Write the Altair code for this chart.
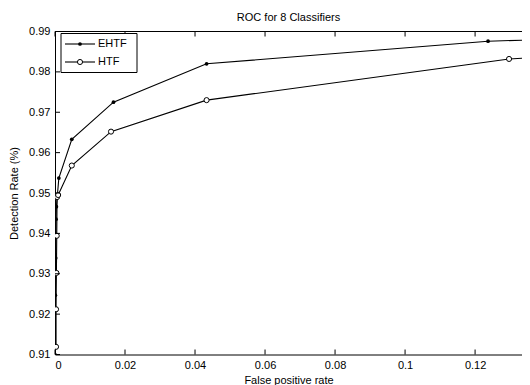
import altair as alt
import pandas as pd

FONT = "Liberation Sans"

series_names = ["EHTF", "HTF"]

ehtf_fpr = [0.0000, 0.0001, 0.0002, 0.0003, 0.0004, 0.0011, 0.0048, 0.0167, 0.0433, 0.1237, 0.1360]
ehtf_dr = [0.9100, 0.9247, 0.9339, 0.9435, 0.9466, 0.9537, 0.9633, 0.9725, 0.9820, 0.9876, 0.9879]

htf_fpr = [0.0003, 0.0003, 0.0004, 0.0005, 0.0006, 0.0009, 0.0048, 0.0160, 0.0433, 0.1297, 0.1360]
htf_dr = [0.9119, 0.9212, 0.9302, 0.9394, 0.9490, 0.9495, 0.9568, 0.9652, 0.9730, 0.9832, 0.9835]

x_ticks = [0, 0.02, 0.04, 0.06, 0.08, 0.1, 0.12]
y_ticks = [0.91, 0.92, 0.93, 0.94, 0.95, 0.96, 0.97, 0.98, 0.99]

W, H = 467, 323
XMAX = 0.1334

rows = []
for i, (x, y) in enumerate(zip(ehtf_fpr, ehtf_dr)):
    rows.append({"series": "EHTF", "fpr": x, "dr": y, "order": i})
for i, (x, y) in enumerate(zip(htf_fpr, htf_dr)):
    rows.append({"series": "HTF", "fpr": x, "dr": y, "order": i})
df = pd.DataFrame(rows)

xs = alt.Scale(domain=[0, XMAX], nice=False, zero=False)
ys = alt.Scale(domain=[0.91, 0.99], nice=False, zero=False)

x_enc = alt.X("fpr:Q", scale=xs, axis=alt.Axis(
    values=x_ticks, format="~g", title="False positive rate", ticks=False, grid=False,
    domainColor="black", domainWidth=1, labelPadding=5, titlePadding=4))
y_enc = alt.Y("dr:Q", scale=ys, axis=alt.Axis(
    values=y_ticks, format="~g", title="Detection Rate (%)", ticks=False, grid=False,
    domainColor="black", domainWidth=1, labelPadding=5, titlePadding=9))

base = alt.Chart(df)
lines = base.mark_line(color="black", strokeWidth=1.1, clip=True).encode(
    x=x_enc, y=y_enc, detail="series:N", order="order:Q")
ehtf_pts = base.transform_filter(alt.datum.series == "EHTF").mark_point(
    shape="circle", filled=True, color="black", size=14, opacity=1, clip=True).encode(
    x="fpr:Q", y="dr:Q")
htf_pts = base.transform_filter(alt.datum.series == "HTF").mark_point(
    shape="circle", fill="white", fillOpacity=1, stroke="black", strokeWidth=1,
    size=26, opacity=1, clip=True).encode(x="fpr:Q", y="dr:Q")

xt = alt.Chart(pd.DataFrame({"v": x_ticks}))
yt = alt.Chart(pd.DataFrame({"v": y_ticks}))
top_ticks = xt.mark_rule(color="black").encode(
    x=alt.X("v:Q", scale=xs), y=alt.value(0), y2=alt.value(5))
bot_ticks = xt.mark_rule(color="black").encode(
    x=alt.X("v:Q", scale=xs), y=alt.value(H - 5), y2=alt.value(H))
left_ticks = yt.mark_rule(color="black").encode(
    y=alt.Y("v:Q", scale=ys), x=alt.value(0), x2=alt.value(5))

one = alt.Chart(pd.DataFrame({"a": [0]}))
top_border = one.mark_rule(color="black", strokeWidth=1).encode(
    x=alt.value(0), x2=alt.value(W), y=alt.value(0))

legend_layers = [one.mark_rect(fill="white", stroke="black", strokeWidth=1).encode(
    x=alt.value(6), x2=alt.value(82), y=alt.value(2), y2=alt.value(41))]
for i, name in enumerate(series_names):
    yy = 12.5 + 18 * i
    leg = alt.Chart(pd.DataFrame({"series": [name]}))
    legend_layers.append(leg.mark_rule(color="black", strokeWidth=1.1).encode(
        x=alt.value(10), x2=alt.value(40), y=alt.value(yy)))
    if name == "EHTF":
        legend_layers.append(leg.mark_point(shape="circle", filled=True, color="black",
                                            size=14, opacity=1).encode(
            x=alt.value(25), y=alt.value(yy)))
    else:
        legend_layers.append(leg.mark_point(shape="circle", fill="white", fillOpacity=1,
                                            stroke="black", strokeWidth=1, size=26,
                                            opacity=1).encode(
            x=alt.value(25), y=alt.value(yy)))
    legend_layers.append(leg.mark_text(align="left", baseline="middle", fontSize=11,
                                       font=FONT, color="black").encode(
        x=alt.value(43), y=alt.value(yy), text="series:N"))

chart = alt.layer(
    lines, ehtf_pts, htf_pts, top_ticks, bot_ticks, left_ticks, top_border, *legend_layers
).properties(
    width=W, height=H,
    padding={"left": 47, "top": 23.5, "right": 0, "bottom": 30},
    autosize=alt.AutoSizeParams(type="none"),
    title=alt.Title("ROC for 8 Classifiers", fontSize=11, font=FONT,
                    fontWeight="normal", color="black", offset=3),
).configure_view(stroke=None).configure_axis(
    labelFont=FONT, titleFont=FONT, labelFontSize=11, titleFontSize=11,
    labelColor="black", titleColor="black", titleFontWeight="normal",
)

chart.save("out.html", embed_options={"renderer": "svg", "actions": False})
